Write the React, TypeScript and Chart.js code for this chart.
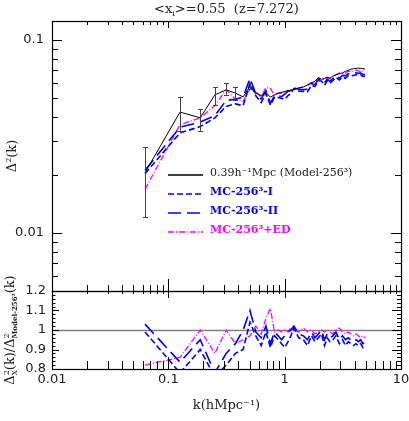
import React, { useEffect, useRef } from "react";
import { Chart, registerables } from "chart.js";
Chart.register(...registerables);

// ---------- data ----------
const kValues = [
  0.063, 0.126, 0.188, 0.251, 0.314, 0.377, 0.44, 0.503, 0.565, 0.628, 0.69, 0.754,
  0.817, 0.88, 0.94, 1.0, 1.07, 1.13, 1.2, 1.32, 1.45, 1.57, 1.7, 1.82, 1.95, 2.07,
  2.2, 2.32, 2.45, 2.6, 2.76, 2.95, 3.14, 3.33, 3.52, 3.7, 3.9, 4.1, 4.3, 4.5, 4.7, 4.9,
];
const modelPower = [
  0.0205, 0.0423, 0.0395, 0.0519, 0.0552, 0.053, 0.0507, 0.0575, 0.053, 0.0515, 0.0535, 0.0505,
  0.052, 0.053, 0.0535, 0.054, 0.0548, 0.0545, 0.0555, 0.0565, 0.057, 0.0585, 0.06, 0.061,
  0.064, 0.0625, 0.0632, 0.064, 0.0635, 0.065, 0.066, 0.0668, 0.0675, 0.0688, 0.0695, 0.0705,
  0.071, 0.0712, 0.0715, 0.071, 0.0712, 0.0705,
];
const ratioMC1 = [
  0.99, 0.78, 0.9, 0.76, 0.82, 0.88, 0.9, 1.04, 0.97, 0.92, 0.99, 0.91, 0.97, 0.95, 0.93, 0.91,
  0.94, 0.97, 1.01, 0.96, 0.95, 0.92, 0.97, 0.94, 0.96, 0.98, 0.92, 0.96, 0.94, 0.95, 0.97, 0.93,
  0.95, 0.92, 0.94, 0.93, 0.92, 0.93, 0.92, 0.93, 0.91, 0.92,
];
const ratioMC2 = [
  1.03, 0.835, 0.95, 0.78, 0.88, 0.93, 1.0, 1.1, 0.99, 0.96, 1.02, 0.93, 0.99, 0.97, 0.95, 0.97,
  0.99, 1.0, 1.02, 0.98, 0.97, 0.95, 0.99, 0.96, 0.98, 1.0, 0.95, 0.98, 0.96, 0.97, 0.99, 0.95,
  0.97, 0.95, 0.96, 0.95, 0.94, 0.95, 0.94, 0.95, 0.93, 0.94,
];
const ratioED = [
  0.82, 0.86, 1.0, 0.88, 1.0, 0.93, 0.95, 0.97, 1.02, 0.98, 1.06, 1.11, 0.99, 1.0, 0.99, 1.0,
  0.99, 1.01, 1.0, 0.99, 1.01, 0.99, 1.0, 0.98, 0.99, 1.0, 0.99, 1.0, 0.99, 0.98, 1.0, 1.01,
  0.99, 0.98, 0.99, 0.98, 0.97, 0.98, 0.97, 0.96, 0.97, 0.96,
];
const errK = [0.063, 0.126, 0.188, 0.251, 0.314, 0.377, 0.503];
const errHigh = [0.0279, 0.0508, 0.0439, 0.0571, 0.0599, 0.0571, 0.06];
const errLow = [0.0121, 0.0338, 0.0338, 0.046, 0.0519, 0.0489, 0.0555];

const xTickLabels = [0.01, 0.1, 1, 10];
const topYTickLabels = [0.01, 0.1];
const ratioYTickLabels = [0.8, 0.9, 1, 1.1, 1.2];

const legendLabels = ["0.39h\u207B\u00B9Mpc (Model-256\u00B3)", "MC-256\u00B3-I", "MC-256\u00B3-II", "MC-256\u00B3+ED"];

// ---------- styles ----------
const BLUE = "#0000ff";
const MAGENTA = "#ff00ff";
const SERIF = "'DejaVu Serif', serif";
const SANS = "'DejaVu Sans', sans-serif";
const styles = [
  { color: "#000000", dash: [] as number[], width: 1 },
  { color: BLUE, dash: [6, 3], width: 1.6 },
  { color: BLUE, dash: [13, 6], width: 1.6 },
  { color: MAGENTA, dash: [6, 2, 1, 2], width: 1.3 },
];

type Piece = { t: string; size: number; dy?: number; bold?: boolean };
type Group = Piece[];

function fontOf(p: Piece, fam: string) {
  return `${p.bold ? "bold " : ""}${p.size}px ${fam}`;
}
function richWidth(ctx: CanvasRenderingContext2D, groups: Group[], fam: string) {
  let w = 0;
  for (const g of groups) {
    let m = 0;
    for (const p of g) {
      ctx.font = fontOf(p, fam);
      m = Math.max(m, ctx.measureText(p.t).width);
    }
    w += m;
  }
  return w;
}
function drawRich(ctx: CanvasRenderingContext2D, groups: Group[], x: number, y: number, center: boolean, fam: string, color: string) {
  const w = richWidth(ctx, groups, fam);
  let cx = center ? x - w / 2 : x;
  ctx.fillStyle = color;
  ctx.textAlign = "left";
  ctx.textBaseline = "alphabetic";
  for (const g of groups) {
    let m = 0;
    for (const p of g) {
      ctx.font = fontOf(p, fam);
      ctx.fillText(p.t, cx, y + (p.dy || 0));
      m = Math.max(m, ctx.measureText(p.t).width);
    }
    cx += m;
  }
}

function logTicks(min: number, max: number) {
  const major: number[] = [];
  const minor: number[] = [];
  for (let e = Math.floor(Math.log10(min)); e <= Math.ceil(Math.log10(max)); e++) {
    for (let m = 1; m <= 9; m++) {
      const v = m * Math.pow(10, e);
      if (v < min * 0.999 || v > max * 1.001) continue;
      (m === 1 ? major : minor).push(v);
    }
  }
  return { major, minor };
}

function hLine(ctx: CanvasRenderingContext2D, x: number, y0: number, y1: number) {
  ctx.beginPath();
  ctx.moveTo(Math.round(x) + 0.5, y0);
  ctx.lineTo(Math.round(x) + 0.5, y1);
  ctx.stroke();
}
function vTick(ctx: CanvasRenderingContext2D, y: number, x0: number, x1: number) {
  ctx.beginPath();
  ctx.moveTo(x0, Math.round(y) + 0.5);
  ctx.lineTo(x1, Math.round(y) + 0.5);
  ctx.stroke();
}

const topPlugin = {
  id: "topDecor",
  afterDatasetsDraw(chart: any) {
    const ctx: CanvasRenderingContext2D = chart.ctx;
    const xs = chart.scales.x;
    const ys = chart.scales.y;
    const a = chart.chartArea;
    ctx.save();
    // error bars
    ctx.strokeStyle = "#444";
    ctx.lineWidth = 1;
    ctx.setLineDash([]);
    errK.forEach((k, i) => {
      const px = Math.round(xs.getPixelForValue(k)) + 0.5;
      const yh = ys.getPixelForValue(errHigh[i]);
      const yl = ys.getPixelForValue(errLow[i]);
      ctx.beginPath();
      ctx.moveTo(px, yh);
      ctx.lineTo(px, yl);
      ctx.moveTo(px - 2.5, Math.round(yh) + 0.5);
      ctx.lineTo(px + 2.5, Math.round(yh) + 0.5);
      ctx.moveTo(px - 2.5, Math.round(yl) + 0.5);
      ctx.lineTo(px + 2.5, Math.round(yl) + 0.5);
      ctx.stroke();
    });
    // frame
    ctx.strokeStyle = "#000";
    ctx.lineWidth = 1.2;
    ctx.strokeRect(Math.round(a.left) + 0.5, Math.round(a.top) + 0.5, Math.round(a.right - a.left), Math.round(a.bottom - a.top));
    ctx.lineWidth = 1;
    // x ticks
    const xt = logTicks(0.01, 10);
    xt.major.forEach((v) => {
      const p = xs.getPixelForValue(v);
      hLine(ctx, p, a.top, a.top + 7);
      hLine(ctx, p, a.bottom, a.bottom - 12);
    });
    xt.minor.forEach((v) => {
      const p = xs.getPixelForValue(v);
      hLine(ctx, p, a.top, a.top + 4);
      hLine(ctx, p, a.bottom, a.bottom - 6);
    });
    // y ticks
    const yt = logTicks(ys.min, ys.max);
    yt.major.forEach((v) => {
      const p = ys.getPixelForValue(v);
      vTick(ctx, p, a.left, a.left + 10);
      vTick(ctx, p, a.right, a.right - 10);
    });
    yt.minor.forEach((v) => {
      const p = ys.getPixelForValue(v);
      vTick(ctx, p, a.left, a.left + 6);
      vTick(ctx, p, a.right, a.right - 6);
    });
    // y tick labels
    ctx.fillStyle = "#222";
    ctx.font = `13px ${SANS}`;
    ctx.textAlign = "right";
    ctx.textBaseline = "middle";
    topYTickLabels.forEach((v) => {
      ctx.fillText(String(v), a.left - 8, ys.getPixelForValue(v));
    });
    // title
    const cx = (a.left + a.right) / 2;
    drawRich(
      ctx,
      [[{ t: "<x", size: 13 }], [{ t: "i", size: 8, dy: 3 }], [{ t: ">=0.55  (z=7.272)", size: 13 }]],
      cx, 13, true, SERIF, "#222"
    );
    // y label
    ctx.save();
    ctx.translate(0, (a.top + a.bottom) / 2);
    ctx.rotate(-Math.PI / 2);
    drawRich(ctx, [[{ t: "\u0394", size: 13 }], [{ t: "2", size: 8, dy: -5 }], [{ t: "(k)", size: 13 }]], 0, 16, true, SERIF, "#222");
    ctx.restore();
    // legend
    const rows = [172, 191, 210, 229];
    const textColors = ["#222", BLUE, BLUE, MAGENTA];
    legendLabels.forEach((lab, i) => {
      const s = styles[i];
      ctx.strokeStyle = s.color;
      ctx.lineWidth = Math.max(s.width, 1.5);
      ctx.setLineDash(s.dash);
      ctx.beginPath();
      ctx.moveTo(168, rows[i] + 3);
      ctx.lineTo(203, rows[i] + 3);
      ctx.stroke();
      ctx.setLineDash([]);
      ctx.fillStyle = textColors[i];
      ctx.font = `${i === 0 ? "" : "bold "}11px ${SERIF}`;
      ctx.textAlign = "left";
      ctx.textBaseline = "alphabetic";
      ctx.fillText(lab, 210, rows[i] + 4);
    });
    ctx.restore();
  },
};

const bottomPlugin = {
  id: "bottomDecor",
  beforeDatasetsDraw(chart: any) {
    const ctx: CanvasRenderingContext2D = chart.ctx;
    const ys = chart.scales.y;
    const a = chart.chartArea;
    ctx.save();
    ctx.strokeStyle = "#808080";
    ctx.lineWidth = 1.5;
    const p = Math.round(ys.getPixelForValue(1)) + 0.5;
    ctx.beginPath();
    ctx.moveTo(a.left, p);
    ctx.lineTo(a.right, p);
    ctx.stroke();
    ctx.restore();
  },
  afterDatasetsDraw(chart: any) {
    const ctx: CanvasRenderingContext2D = chart.ctx;
    const xs = chart.scales.x;
    const ys = chart.scales.y;
    const a = chart.chartArea;
    ctx.save();
    ctx.setLineDash([]);
    ctx.strokeStyle = "#000";
    ctx.lineWidth = 1.2;
    ctx.strokeRect(Math.round(a.left) + 0.5, Math.round(a.top) + 0.5, Math.round(a.right - a.left), Math.round(a.bottom - a.top));
    ctx.lineWidth = 1;
    const xt = logTicks(0.01, 10);
    xt.major.forEach((v) => {
      const p = xs.getPixelForValue(v);
      hLine(ctx, p, a.top, a.top + 7);
      hLine(ctx, p, a.bottom, a.bottom - 12);
    });
    xt.minor.forEach((v) => {
      const p = xs.getPixelForValue(v);
      hLine(ctx, p, a.top, a.top + 3);
      hLine(ctx, p, a.bottom, a.bottom - 8);
    });
    for (let i = 0; i <= 20; i++) {
      const v = 0.8 + i * 0.02;
      const p = ys.getPixelForValue(v);
      const len = i % 5 === 0 ? 7 : 3.5;
      vTick(ctx, p, a.left, a.left + len);
      vTick(ctx, p, a.right, a.right - (i % 5 === 0 ? 9 : 4));
    }
    // labels
    ctx.fillStyle = "#222";
    ctx.font = `13px ${SANS}`;
    ctx.textAlign = "right";
    ctx.textBaseline = "middle";
    ratioYTickLabels.forEach((v) => {
      ctx.fillText(String(v), a.left - 6, ys.getPixelForValue(v));
    });
    ctx.textAlign = "center";
    xTickLabels.forEach((v) => {
      ctx.fillText(String(v), xs.getPixelForValue(v), a.bottom + 11);
    });
    drawRich(
      ctx,
      [[{ t: "k(hMpc", size: 13 }], [{ t: "\u207B\u00B9", size: 13 }], [{ t: ")", size: 13 }]],
      (a.left + a.right) / 2, a.bottom + 40, true, SERIF, "#222"
    );
    // ratio y label
    ctx.save();
    ctx.translate(0, (a.top + a.bottom) / 2);
    ctx.rotate(-Math.PI / 2);
    drawRich(
      ctx,
      [
        [{ t: "\u0394", size: 13 }],
        [{ t: "2", size: 8, dy: -5 }, { t: "X", size: 7, dy: 3 }],
        [{ t: "(k)/\u0394", size: 13 }],
        [{ t: "2", size: 8, dy: -5 }, { t: "Model-256\u00B3", size: 7, dy: 3, bold: true }],
        [{ t: "(k)", size: 13 }],
      ],
      0, 14, true, SERIF, "#222"
    );
    ctx.restore();
    ctx.restore();
  },
};

function makeDatasets(values: number[][]) {
  return values.map((vals, i) => ({
    data: kValues.map((k, j) => ({ x: k, y: vals[j] })),
    borderColor: styles[i].color,
    borderWidth: styles[i].width,
    borderDash: styles[i].dash,
    pointRadius: 0,
    fill: false,
    tension: 0,
  }));
}

export default function App() {
  const topRef = useRef<HTMLCanvasElement>(null);
  const botRef = useRef<HTMLCanvasElement>(null);

  useEffect(() => {
    const mc1 = modelPower.map((v, i) => v * ratioMC1[i]);
    const mc2 = modelPower.map((v, i) => v * ratioMC2[i]);
    const ed = modelPower.map((v, i) => v * ratioED[i]);
    const ones = modelPower.map(() => 1);

    const common = {
      animation: false as const,
      responsive: false,
      events: [] as any[],
      plugins: { legend: { display: false }, tooltip: { enabled: false }, title: { display: false } },
    };

    const top = new Chart(topRef.current!, {
      type: "line",
      data: { datasets: makeDatasets([modelPower, mc1, mc2, ed]) as any },
      options: {
        ...common,
        layout: { padding: { left: 52, right: 8, top: 21, bottom: 9 } },
        scales: {
          x: { type: "logarithmic", min: 0.01, max: 10, display: false },
          y: { type: "logarithmic", min: 0.005, max: 0.1254, display: false },
        },
      } as any,
      plugins: [topPlugin],
    });

    const botSets = makeDatasets([ones, ratioMC1, ratioMC2, ratioED]).slice(1).map((d) => ({ ...d, clip: 0 }));
    const bottom = new Chart(botRef.current!, {
      type: "line",
      data: { datasets: botSets as any },
      options: {
        ...common,
        layout: { padding: { left: 52, right: 8, top: 31, bottom: 52 } },
        scales: {
          x: { type: "logarithmic", min: 0.01, max: 10, display: false },
          y: { type: "linear", min: 0.8, max: 1.2, display: false },
        },
      } as any,
      plugins: [bottomPlugin],
    });

    return () => {
      top.destroy();
      bottom.destroy();
    };
  }, []);

  return (
    <div style={{ position: "absolute", left: 0, top: 0, width: 409, height: 421, background: "#fff" }}>
      <canvas ref={topRef} width={409} height={300} style={{ position: "absolute", left: 0, top: 0 }} />
      <canvas ref={botRef} width={409} height={161} style={{ position: "absolute", left: 0, top: 260 }} />
    </div>
  );
}
